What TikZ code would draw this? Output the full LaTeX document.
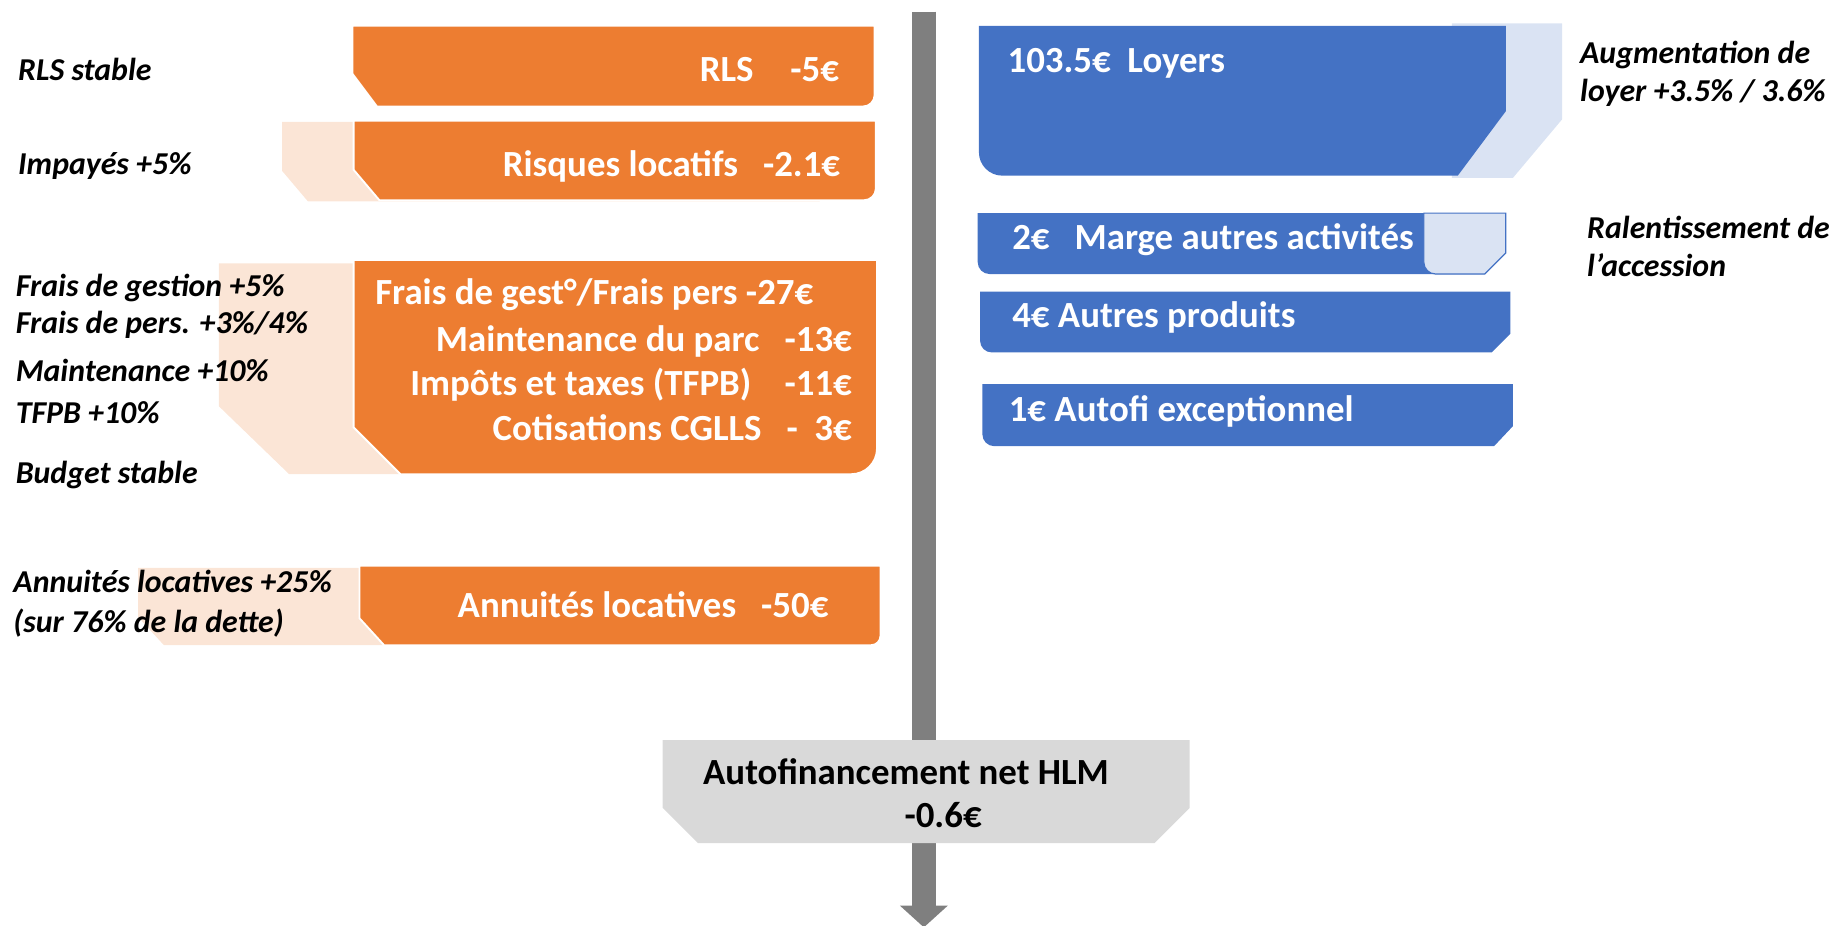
\documentclass[tikz,border=0pt]{standalone}
\usepackage{fontspec}
\setmainfont{Carlito}
\usetikzlibrary{arrows.meta}

\definecolor{chargeOr}{RGB}{237,125,49}
\definecolor{chargePe}{RGB}{251,229,214}
\definecolor{produitBl}{RGB}{68,114,196}
\definecolor{produitPa}{RGB}{218,227,243}
\definecolor{fluxGr}{RGB}{127,127,127}
\definecolor{soldeGr}{RGB}{217,217,217}

\tikzset{every picture/.style={line width=0.75pt}}
\tikzset{
  boxtxt/.style={inner sep=0pt, text=white, font=\fontsize{23.6}{28}\selectfont\bfseries},
  sidetxt/.style={inner sep=0pt, anchor=base west, font=\fontsize{20.4}{24}\selectfont\bfseries\itshape},
  chargebox/.style={fill=chargeOr, draw=white, line width=1.2pt},
}

\begin{document}
\begin{tikzpicture}[x=0.75pt,y=0.75pt,yscale=-1,xscale=1]
    \useasboundingbox (0,0) rectangle (1568,790);

    %Flux arrow
    \coordinate (fluxtop) at (789,10);
    \coordinate (fluxend) at (789,792);
    \draw [fluxGr, line width=15pt, -{Triangle[width=30pt,length=14pt]}] (fluxtop) -- (fluxend) ;

    %Shape: peach shadows
    \fill [chargePe] (241,104) -- (700,104) -- (700,172) -- (263,172) -- (241,146) -- cycle ;
    \fill [chargePe] (187,225) -- (700,225) -- (700,405) -- (247,405) -- (187,347) -- cycle ;
    \fill [chargePe] (118,485) -- (700,485) -- (700,551) -- (140,551) -- (118,527) -- cycle ;

    %Shape: orange charges
    \filldraw [chargebox] (301,22) -- (747,22) -- (747,81) arc[start angle=0,end angle=90,radius=10] -- (322,91) -- (301,63) -- cycle ;
    \filldraw [chargebox] (302,103) -- (748,103) -- (748,161) arc[start angle=0,end angle=90,radius=10] -- (324,171) -- (302,145) -- cycle ;
    \filldraw [chargebox] (302,222) -- (749,222) -- (749,383) arc[start angle=0,end angle=90,radius=22] -- (342,405) -- (302,365) -- cycle ;
    \filldraw [chargebox] (307,483) -- (752,483) -- (752,543) arc[start angle=0,end angle=90,radius=8] -- (328,551) -- (307,528) -- cycle ;

    %Shape: blue produits
    \fill [produitPa] (1240,20) -- (1334,20) -- (1334,102) -- (1292,152) -- (1240,152) -- cycle ;
    \fill [produitBl] (836,22) -- (1286,22) -- (1286,95) -- (1245,150) -- (856,150) arc[start angle=90,end angle=180,radius=20] -- cycle ;
    \fill [produitBl] (835,182) -- (1286,182) -- (1286,216) -- (1268,234) -- (845,234) arc[start angle=90,end angle=180,radius=10] -- cycle ;
    \filldraw [fill=produitPa, draw=produitBl] (1216,182) -- (1286,182) -- (1286,216) -- (1268,234) -- (1226,234) arc[start angle=90,end angle=180,radius=10] -- cycle ;
    \fill [produitBl] (837,249) -- (1290,249) -- (1290,285) -- (1274,301) -- (847,301) arc[start angle=90,end angle=180,radius=10] -- cycle ;
    \fill [produitBl] (839,328) -- (1292,328) -- (1292,364) -- (1276,381) -- (849,381) arc[start angle=90,end angle=180,radius=10] -- cycle ;

    %Shape: autofinancement
    \fill [soldeGr] (566,632) -- (1016,632) -- (1016,690) -- (986,720) -- (596,720) -- (566,690) -- cycle ;

    % Text Node
    \node (rls) [boxtxt, anchor=base east] at (717,70) {RLS\quad-5€};
    \node (risq) [boxtxt, anchor=base east] at (718,151) {Risques locatifs\ \ \ -2.1€};
    \node (frais) [boxtxt, anchor=base west] at (320,260) {Frais de gest°/Frais pers -27€};
    \node (maint) [boxtxt, anchor=base east] at (728,300) {Maintenance du parc\ \ \ -13€};
    \node (impots) [boxtxt, anchor=base east] at (728,338) {Impôts et taxes (TFPB)\ \ \ \ -11€};
    \node (cotis) [boxtxt, anchor=base east] at (728,376) {Cotisations CGLLS\ \ \ -\ \ 3€};
    \node (annu) [boxtxt, anchor=base east] at (708,527) {Annuités locatives\ \ \ -50€};
    \node (loyers) [boxtxt, anchor=base west] at (860,62) {103.5€\ \ Loyers};
    \node (marge) [boxtxt, anchor=base west] at (864,213) {2€\ \ \ Marge autres activités};
    \node (autres) [boxtxt, anchor=base west] at (864,280) {4€ Autres produits};
    \node (autofi) [boxtxt, anchor=base west] at (861,360) {1€ Autofi exceptionnel};
    \node (net) [boxtxt, text=black, anchor=base west] at (600,670) {Autofinancement net HLM};
    \node (netval) [boxtxt, text=black, anchor=base west] at (772,707) {-0.6€};

    % Side notes
    \node (nrls) [sidetxt] at (15,69) {RLS stable};
    \node (nimp) [sidetxt] at (15,149) {Impayés +5\%};
    \node (ngest) [sidetxt] at (13,253) {Frais de gestion +5\%};
    \node (npers) [sidetxt] at (13,285) {Frais de pers. +3\%/4\%};
    \node (nmaint) [sidetxt] at (13,326) {Maintenance +10\%};
    \node (ntfpb) [sidetxt] at (13,362) {TFPB +10\%};
    \node (nbudget) [sidetxt] at (13,413) {Budget stable};
    \node (nannu) [sidetxt] at (11,506) {Annuités locatives +25\%};
    \node (ndette) [sidetxt] at (11,540) {(sur 76\% de la dette)};
    \node (naug) [sidetxt] at (1349,54) {Augmentation de};
    \node (nloyer) [sidetxt] at (1349,87) {loyer +3.5\% / 3.6\%};
    \node (nral) [sidetxt] at (1355,204) {Ralentissement de};
    \node (nacc) [sidetxt] at (1355,236) {l’accession};

\end{tikzpicture}
\end{document}
